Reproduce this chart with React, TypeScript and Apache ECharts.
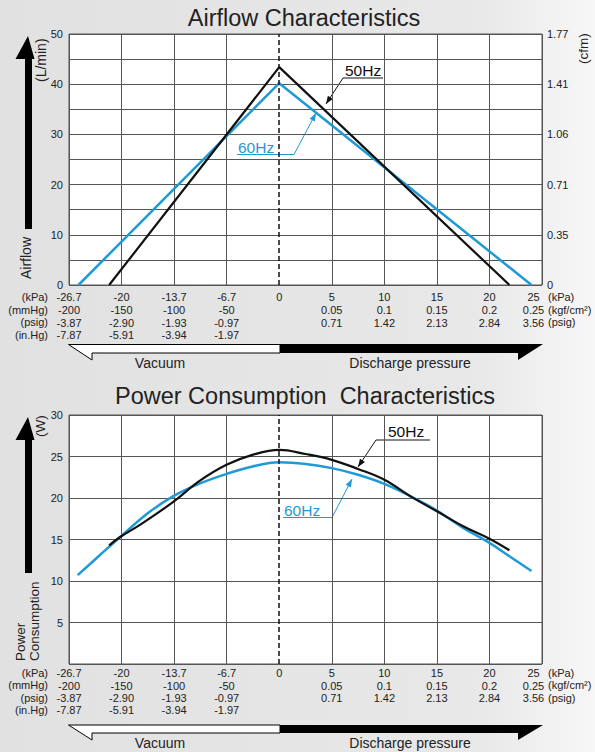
import React, { useEffect, useRef } from "react";
import * as echarts from "echarts";

// ---- tick labels ----
const kpaLabels = ["-26.7", "-20", "-13.7", "-6.7", "0", "5", "10", "15", "20", "25"];
const mmHgLabels = ["-200", "-150", "-100", "-50"];
const psigVacLabels = ["-3.87", "-2.90", "-1.93", "-0.97"];
const inHgLabels = ["-7.87", "-5.91", "-3.94", "-1.97"];
const kgfLabels = ["0.05", "0.1", "0.15", "0.2", "0.25"];
const psigDisLabels = ["0.71", "1.42", "2.13", "2.84", "3.56"];
const cfmLabels = ["0", "0.35", "0.71", "1.06", "1.41", "1.77"];
const leftUnits = ["(kPa)", "(mmHg)", "(psig)", "(in.Hg)"];
const rightUnits = ["(kPa)", "(kgf/cm²)", "(psig)"];

// ---- series data (x in kPa) ----
const airflow50Kpa = [-21.6, 0, 21.9];
const airflow50Val = [0, 43.4, 0];
const airflow60Kpa = [-25.5, 0, 24.0];
const airflow60Val = [0, 40.2, 0];

const power50Kpa = [-21.6, -20.2, -17.8, -13.5, -10.2, -6.7, -3.4, 0, 2.5, 5, 7.5, 10, 12.5, 15, 17.5, 20, 21.9];
const power50Val = [14.3, 15.3, 16.7, 19.5, 22.0, 24.0, 25.2, 25.8, 25.3, 24.6, 23.5, 22.2, 20.2, 18.4, 16.6, 15.1, 13.7];
const power60Kpa = [-25.6, -22.8, -20.2, -16.5, -13.5, -10.2, -6.7, -3.4, 0, 2.5, 5, 7.5, 10, 12.5, 15, 17.5, 20, 22, 24.0];
const power60Val = [10.7, 13.1, 15.3, 18.3, 20.2, 21.7, 22.9, 23.8, 24.3, 24.1, 23.6, 22.8, 21.7, 20.2, 18.5, 16.4, 14.6, 12.9, 11.2];

const FONT = "'Liberation Sans', Arial, Helvetica, sans-serif";
const BLUE = "#1f9ad6";
const BLACK = "#111111";
const GRIDC = "#555555";
const TXT = "#222222";

// vacuum side is linear in mmHg (4 columns for -26.7 kPa), discharge side 5 kPa per column
const toPos = (kpa: number) => (kpa < 0 ? kpa / (26.7 / 4) : kpa / 5);
const pts = (xs: number[], ys: number[]) => xs.map((x, i) => [toPos(x), ys[i]]);

function xLabel(value: number) {
  const i = Math.round(value) + 4;
  if (i < 0 || i > 9) return "";
  if (i < 4) return [kpaLabels[i], mmHgLabels[i], psigVacLabels[i], inHgLabels[i]].join("\n");
  if (i === 4) return kpaLabels[i];
  const j = i - 5;
  const lines = [kpaLabels[i], kgfLabels[j], psigDisLabels[j]];
  if (i === 9) return lines.map((l) => `{e|${l}}`).join("\n");
  return lines.join("\n");
}

function arrowHead(x1: number, y1: number, x2: number, y2: number, color: string) {
  const dx = x2 - x1, dy = y2 - y1;
  const len = Math.sqrt(dx * dx + dy * dy);
  const ux = dx / len, uy = dy / len;
  const L = 8, W = 3;
  const bx = x2 - ux * L, by = y2 - uy * L;
  return {
    type: "polygon",
    shape: { points: [[x2, y2], [bx - uy * W, by + ux * W], [bx + uy * W, by - ux * W]] },
    style: { fill: color },
    silent: true,
  };
}

function leader(label: string, color: string, tx: number, ty: number, ux1: number, ux2: number, uy: number, sx: number, sy: number, ex: number, ey: number) {
  return [
    { type: "text", x: tx, y: ty, style: { text: label, fontSize: 15.5, fontFamily: FONT, fill: color, align: "left", verticalAlign: "middle" }, silent: true },
    { type: "line", shape: { x1: ux1, y1: uy, x2: ux2, y2: uy }, style: { stroke: color, lineWidth: 1 }, silent: true },
    { type: "line", shape: { x1: sx, y1: sy, x2: ex, y2: ey }, style: { stroke: color, lineWidth: 1 }, silent: true },
    arrowHead(sx, sy, ex, ey, color),
  ];
}

function txt(text: string, x: number, y: number, size: number, align: string, extra: any = {}) {
  return { type: "text", x, y, silent: true, ...extra, style: { text, fontSize: size, fontFamily: FONT, fill: TXT, align, verticalAlign: "middle" } };
}

export default function App() {
  const ref = useRef<HTMLDivElement>(null);
  useEffect(() => {
    if (!ref.current) return;
    const chart = echarts.init(ref.current, undefined, { renderer: "svg" });

    const xSplitColors = Array.from({ length: 10 }, (_, i) => (i === 4 ? "rgba(0,0,0,0)" : GRIDC));
    const xAxisBase = (gridIndex: number, margin: number, lh: number) => ({
      type: "value",
      gridIndex,
      min: -4,
      max: 5,
      interval: 1,
      axisLine: { show: false },
      axisTick: { show: false },
      splitLine: { show: true, lineStyle: { color: xSplitColors, width: 1 } },
      axisLabel: {
        margin,
        fontSize: 11,
        lineHeight: lh,
        fontFamily: FONT,
        color: TXT,
        formatter: xLabel,
        rich: { e: { padding: [0, 17, 0, 0], fontSize: 11, lineHeight: lh, fontFamily: FONT, color: TXT } },
      },
    });

    const dashed = {
      silent: true,
      symbol: "none",
      label: { show: false },
      lineStyle: { color: BLACK, type: [5, 3], width: 1.5 },
      data: [{ xAxis: 0 }],
    };

    const topRows = [297, 309.7, 322.4, 335.1];
    const botRows = [673, 685.4, 697.8, 710.2];

    const arrowPts = (top: number, bottom: number) => [
      [28, top], [34.5, top + 23], [32, top + 23], [32, bottom], [25, bottom], [25, top + 23], [15.5, top + 23],
    ];

    const graphics: any[] = [
      // titles
      txt("Airflow Characteristics", 304, 17.5, 23.5, "center"),
      txt("Power Consumption  Characteristics", 305, 396, 23.5, "center"),
      // axis names
      txt("(L/min)", 40.5, 82, 14, "left", { rotation: Math.PI / 2 }),
      txt("Airflow", 26, 279, 14, "left", { rotation: Math.PI / 2 }),
      txt("(cfm)", 583, 64, 13.5, "left", { rotation: Math.PI / 2 }),
      txt("(W)", 40.5, 437, 13.5, "left", { rotation: Math.PI / 2 }),
      txt("Power", 20, 661, 13.5, "left", { rotation: Math.PI / 2 }),
      txt("Consumption", 34.5, 661, 13.5, "left", { rotation: Math.PI / 2 }),
      // big arrows
      { type: "polygon", silent: true, shape: { points: arrowPts(36, 229) }, style: { fill: "#000" } },
      { type: "polygon", silent: true, shape: { points: arrowPts(417, 573) }, style: { fill: "#000" } },
      // vacuum / discharge arrows
      { type: "polygon", silent: true, shape: { points: [[68.5, 344.5], [280, 344.5], [280, 353], [92, 353], [92, 360]] }, style: { fill: "#fff", stroke: "#000", lineWidth: 1 } },
      { type: "polygon", silent: true, shape: { points: [[280, 344], [543, 344], [518, 360], [518, 353], [280, 353]] }, style: { fill: "#000" } },
      { type: "polygon", silent: true, shape: { points: [[68.5, 725], [280, 725], [280, 733], [92, 733], [92, 740]] }, style: { fill: "#fff", stroke: "#000", lineWidth: 1 } },
      { type: "polygon", silent: true, shape: { points: [[280, 725], [543, 725], [518, 740], [518, 733], [280, 733]] }, style: { fill: "#000" } },
      txt("Vacuum", 160, 363, 14, "center"),
      txt("Discharge pressure", 410, 363, 14, "center"),
      txt("Vacuum", 160, 743, 14, "center"),
      txt("Discharge pressure", 410, 743, 14, "center"),
      // annotations
      ...leader("50Hz", BLACK, 345, 70.5, 343, 383, 78, 343, 78, 326, 104),
      ...leader("60Hz", BLUE, 238, 147, 237, 294, 154.5, 294, 154.5, 316, 113),
      ...leader("50Hz", BLACK, 388, 431, 376, 430, 440, 376, 440, 358, 467),
      ...leader("60Hz", BLUE, 284, 510, 283, 332, 517.5, 332, 517.5, 352, 479),
    ];
    leftUnits.forEach((u, i) => {
      graphics.push(txt(u, 48, topRows[i], 11, "right"));
      graphics.push(txt(u, 48, botRows[i], 11, "right"));
    });
    rightUnits.forEach((u, i) => {
      graphics.push(txt(u, 548, topRows[i], 11, "left"));
      graphics.push(txt(u, 548, botRows[i], 11, "left"));
    });

    chart.setOption({
      animation: false,
      backgroundColor: new echarts.graphic.LinearGradient(0, 0, 1, 0, [
        { offset: 0, color: "#e1e1e1" },
        { offset: 0.8, color: "#e8e8e8" },
        { offset: 1, color: "#f7f7f7" },
      ]),
      textStyle: { fontFamily: FONT },
      grid: [
        { left: 69, top: 34, width: 473, height: 251, show: true, backgroundColor: "#ffffff", borderColor: GRIDC, borderWidth: 1 },
        { left: 69, top: 415, width: 473, height: 249, show: true, backgroundColor: "#ffffff", borderColor: GRIDC, borderWidth: 1 },
      ],
      xAxis: [xAxisBase(0, 6, 12.7), xAxisBase(1, 3, 12.4)],
      yAxis: [
        {
          type: "value", gridIndex: 0, min: 0, max: 50, interval: 5,
          axisLine: { show: false }, axisTick: { show: false },
          splitLine: { show: true, lineStyle: { color: GRIDC, width: 1 } },
          axisLabel: { margin: 6, fontSize: 11, color: TXT, fontFamily: FONT, formatter: (v: number) => (v % 10 === 0 ? String(v) : "") },
        },
        {
          type: "value", gridIndex: 0, position: "right", min: 0, max: 50, interval: 5,
          axisLine: { show: false }, axisTick: { show: false }, splitLine: { show: false },
          axisLabel: { margin: 5, fontSize: 11, color: TXT, fontFamily: FONT, formatter: (v: number) => (v % 10 === 0 ? cfmLabels[v / 10] : "") },
        },
        {
          type: "value", gridIndex: 1, min: 0, max: 30, interval: 5,
          axisLine: { show: false }, axisTick: { show: false },
          splitLine: { show: true, lineStyle: { color: GRIDC, width: 1 } },
          axisLabel: { margin: 6, fontSize: 11, color: TXT, fontFamily: FONT, formatter: (v: number) => (v === 0 ? "" : String(v)) },
        },
      ],
      series: [
        { name: "60Hz", type: "line", xAxisIndex: 0, yAxisIndex: 0, data: pts(airflow60Kpa, airflow60Val), symbol: "none", lineStyle: { color: BLUE, width: 2.5 }, z: 3 },
        { name: "50Hz", type: "line", xAxisIndex: 0, yAxisIndex: 0, data: pts(airflow50Kpa, airflow50Val), symbol: "none", lineStyle: { color: BLACK, width: 2.2 }, z: 4, markLine: dashed },
        { name: "60Hz P", type: "line", xAxisIndex: 1, yAxisIndex: 2, data: pts(power60Kpa, power60Val), smooth: 0.4, symbol: "none", lineStyle: { color: BLUE, width: 2.5 }, z: 3 },
        { name: "50Hz P", type: "line", xAxisIndex: 1, yAxisIndex: 2, data: pts(power50Kpa, power50Val), smooth: 0.4, symbol: "none", lineStyle: { color: BLACK, width: 2.2 }, z: 4, markLine: dashed },
      ],
      graphic: graphics,
    });
    return () => chart.dispose();
  }, []);
  return <div ref={ref} style={{ position: "fixed", left: 0, top: 0, width: 595, height: 752 }} />;
}
